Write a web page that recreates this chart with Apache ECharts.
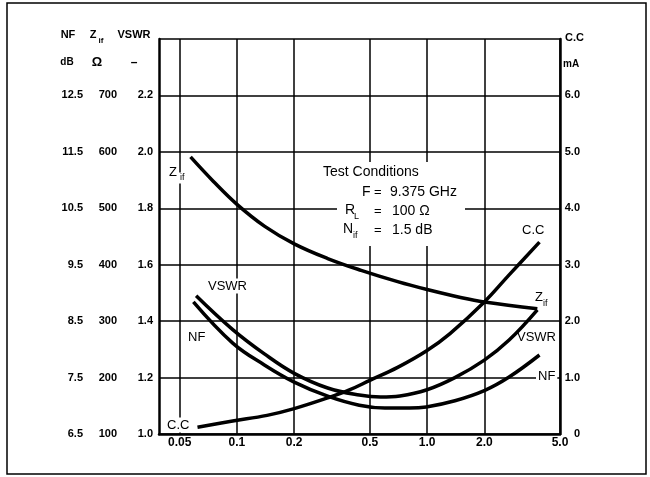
<!DOCTYPE html>
<html>
<head>
<meta charset="utf-8">
<script src="https://cdn.jsdelivr.net/npm/echarts@6/dist/echarts.min.js"></script>
<style>
  html, body { margin: 0; padding: 0; background: #fff; }
  #chart { width: 650px; height: 477px; }
</style>
</head>
<body>
<div id="chart"></div>
<script>
// x axis: log scale, labels as printed on the sheet
var xTicks = [0.05, 0.1, 0.2, 0.5, 1.0, 2.0, 5.0];
var xTickLabels = ['0.05', '0.1', '0.2', '0.5', '1.0', '2.0', '5.0'];

// left axes (three scales share the grid rows) and right axis
var vswrTickLabels = ['1.0', '1.2', '1.4', '1.6', '1.8', '2.0', '2.2'];
var zifTicks = [100, 200, 300, 400, 500, 600, 700];
var nfTicks = [6.5, 7.5, 8.5, 9.5, 10.5, 11.5, 12.5];
var ccTicks = [0, 1, 2, 3, 4, 5, 6];
var ccTickLabels = ['0', '1.0', '2.0', '3.0', '4.0', '5.0', '6.0'];

// curves
var zifCurrent = [0.057, 0.075, 0.1, 0.14, 0.2, 0.3, 0.45, 0.7, 1.0, 1.5, 2.0, 3.8];
var zifOhm     = [591, 548, 507, 468, 437, 411, 390, 370, 356, 342, 334, 322];

var vswrCurrent = [0.061, 0.095, 0.14, 0.2, 0.3, 0.44, 0.57, 0.72, 0.99, 1.4, 2.0, 2.7, 3.8];
var vswrValue   = [1.49, 1.37, 1.283, 1.215, 1.163, 1.138, 1.131, 1.135, 1.156, 1.2, 1.262, 1.333, 1.44];

var nfCurrent = [0.059, 0.095, 0.14, 0.2, 0.3, 0.44, 0.6, 0.81, 0.99, 1.4, 2.0, 2.7, 3.9];
var nfDb      = [8.84, 8.11, 7.72, 7.42, 7.17, 7.01, 6.96, 6.96, 6.98, 7.09, 7.27, 7.51, 7.90];

var ccCurrent = [0.062, 0.095, 0.144, 0.2, 0.3, 0.39, 0.5, 0.7, 0.99, 1.32, 2.0, 2.7, 3.9];
var ccMa      = [0.12, 0.23, 0.33, 0.45, 0.64, 0.78, 0.95, 1.18, 1.47, 1.78, 2.34, 2.82, 3.40];

var FONT = '"Liberation Sans", Arial, sans-serif';

function pairs(xs, ys) {
    var out = [];
    for (var i = 0; i < xs.length; i++) {
        out.push([Math.log10(xs[i]), ys[i]]);
    }
    return out;
}

function labelFor(ticks, labels, v) {
    for (var i = 0; i < ticks.length; i++) {
        if (Math.abs(ticks[i] - v) < 1e-6) return labels[i];
    }
    return '';
}

var xLogTicks = xTicks.map(function (v) { return Math.log10(v); });

function txt(text, x, y, size, opts) {
    opts = opts || {};
    return {
        type: 'text',
        z: 100,
        x: x,
        y: y,
        style: {
            text: text,
            fill: '#000',
            font: (opts.bold ? 'bold ' : '') + size + 'px ' + FONT,
            align: opts.align || 'left',
            verticalAlign: 'middle',
            backgroundColor: opts.bg ? '#fff' : null,
            padding: opts.bg ? [1, 2, 1, 2] : 0
        }
    };
}

function lineSeries(name, yIdx, data) {
    return {
        name: name,
        type: 'line',
        yAxisIndex: yIdx,
        data: data,
        smooth: 0.4,
        showSymbol: false,
        symbol: 'none',
        silent: true,
        lineStyle: { color: '#000', width: 3.5 },
        z: 5
    };
}

var chart = echarts.init(document.getElementById('chart'));

var option = {
    backgroundColor: '#fff',
    animation: false,
    grid: {
        left: 159, right: 90, top: 39, bottom: 43,
        containLabel: false,
        outerBoundsMode: 'none'
    },
    xAxis: {
        type: 'value',
        min: -1.41,
        max: Math.log10(5),
        axisLine: { show: true, onZero: false, lineStyle: { color: '#000', width: 2.5 } },
        axisTick: { show: false, customValues: xLogTicks },
        splitLine: { show: true, lineStyle: { color: '#000', width: 1.5 } },
        axisLabel: {
            customValues: xLogTicks,
            margin: 3,
            color: '#000',
            fontFamily: FONT,
            fontWeight: 'bold',
            fontSize: 12,
            formatter: function (v) {
                return labelFor(xLogTicks, xTickLabels, v);
            }
        }
    },
    yAxis: [
        { // VSWR
            type: 'value',
            position: 'left',
            min: 1.0, max: 2.4, interval: 0.2,
            axisLine: { show: true, onZero: false, lineStyle: { color: '#000', width: 2.5 } },
            axisTick: { show: false },
            splitLine: { show: true, lineStyle: { color: '#000', width: 1.5 } },
            axisLabel: {
                margin: 6,
                color: '#000',
                fontFamily: FONT,
                fontWeight: 'bold',
                fontSize: 11,
                formatter: function (v) {
                    var i = Math.round((v - 1.0) / 0.2);
                    return vswrTickLabels[i] || '';
                }
            }
        },
        { // Zif
            type: 'value',
            position: 'left',
            offset: 36,
            min: 100, max: 800, interval: 100,
            axisLine: { show: false },
            axisTick: { show: false },
            splitLine: { show: false },
            axisLabel: {
                margin: 6,
                color: '#000',
                fontFamily: FONT,
                fontWeight: 'bold',
                fontSize: 11,
                formatter: function (v) {
                    return zifTicks.indexOf(v) >= 0 ? String(v) : '';
                }
            }
        },
        { // NF
            type: 'value',
            position: 'left',
            offset: 70,
            min: 6.5, max: 13.5,
            axisLine: { show: false },
            axisTick: { show: false },
            splitLine: { show: false },
            axisLabel: {
                customValues: nfTicks,
                margin: 6,
                color: '#000',
                fontFamily: FONT,
                fontWeight: 'bold',
                fontSize: 11,
                formatter: function (v) { return v.toFixed(1); }
            }
        },
        { // C.C
            type: 'value',
            position: 'right',
            min: 0, max: 7, interval: 1,
            axisLine: { show: true, lineStyle: { color: '#000', width: 2.5 } },
            axisTick: { show: false },
            splitLine: { show: false },
            axisLabel: {
                margin: 20,
                align: 'right',
                color: '#000',
                fontFamily: FONT,
                fontWeight: 'bold',
                fontSize: 11,
                formatter: function (v) {
                    return labelFor(ccTicks, ccTickLabels, v);
                }
            }
        }
    ],
    series: [
        lineSeries('Zif', 1, pairs(zifCurrent, zifOhm)),
        lineSeries('VSWR', 0, pairs(vswrCurrent, vswrValue)),
        lineSeries('NF', 2, pairs(nfCurrent, nfDb)),
        lineSeries('C.C', 3, pairs(ccCurrent, ccMa))
    ],
    graphic: [
        // outer frame
        { type: 'rect', z: 1, shape: { x: 7, y: 3, width: 639, height: 471 },
          style: { fill: null, stroke: '#000', lineWidth: 1.5 } },
        // axis headers
        txt('NF', 68, 35, 11, { bold: true, align: 'center' }),
        txt('Z', 93, 35, 11, { bold: true, align: 'center' }),
        txt('if', 101, 41, 8, { bold: true, align: 'center' }),
        txt('VSWR', 134, 35, 11, { bold: true, align: 'center' }),
        txt('dB', 67, 62, 10, { bold: true, align: 'center' }),
        txt('Ω', 97, 62, 13, { bold: true, align: 'center' }),
        txt('–', 134, 63, 12, { bold: true, align: 'center' }),
        txt('C.C', 565, 38, 11, { bold: true }),
        txt('mA', 563, 64, 10, { bold: true }),
        // test conditions box
        { type: 'rect', z: 90, shape: { x: 337, y: 162, width: 128, height: 84 },
          style: { fill: '#fff' } },
        txt('Test Conditions', 323, 172, 14),
        txt('F', 362, 192, 14),
        txt('=', 374, 192, 13),
        txt('9.375 GHz', 390, 192, 14),
        txt('R', 345, 210, 14),
        txt('L', 354, 217, 9),
        txt('=', 374, 211, 13),
        txt('100 Ω', 392, 211, 14),
        txt('N', 343, 229, 14),
        txt('if', 353, 236, 9),
        txt('=', 374, 230, 13),
        txt('1.5 dB', 392, 230, 14),
        // curve labels
        txt('Z', 167, 172, 13, { bg: true }),
        txt('if', 178, 178, 9, { bg: true }),
        txt('VSWR', 206, 286, 13, { bg: true }),
        txt('NF', 186, 337, 13, { bg: true }),
        txt('C.C', 165, 425, 13, { bg: true }),
        txt('C.C', 522, 230, 13),
        txt('Z', 535, 297, 13),
        txt('if', 543, 304, 9),
        txt('VSWR', 517, 337, 13),
        txt('NF', 536, 376, 13, { bg: true })
    ]
};

chart.setOption(option);
</script>
</body>
</html>
